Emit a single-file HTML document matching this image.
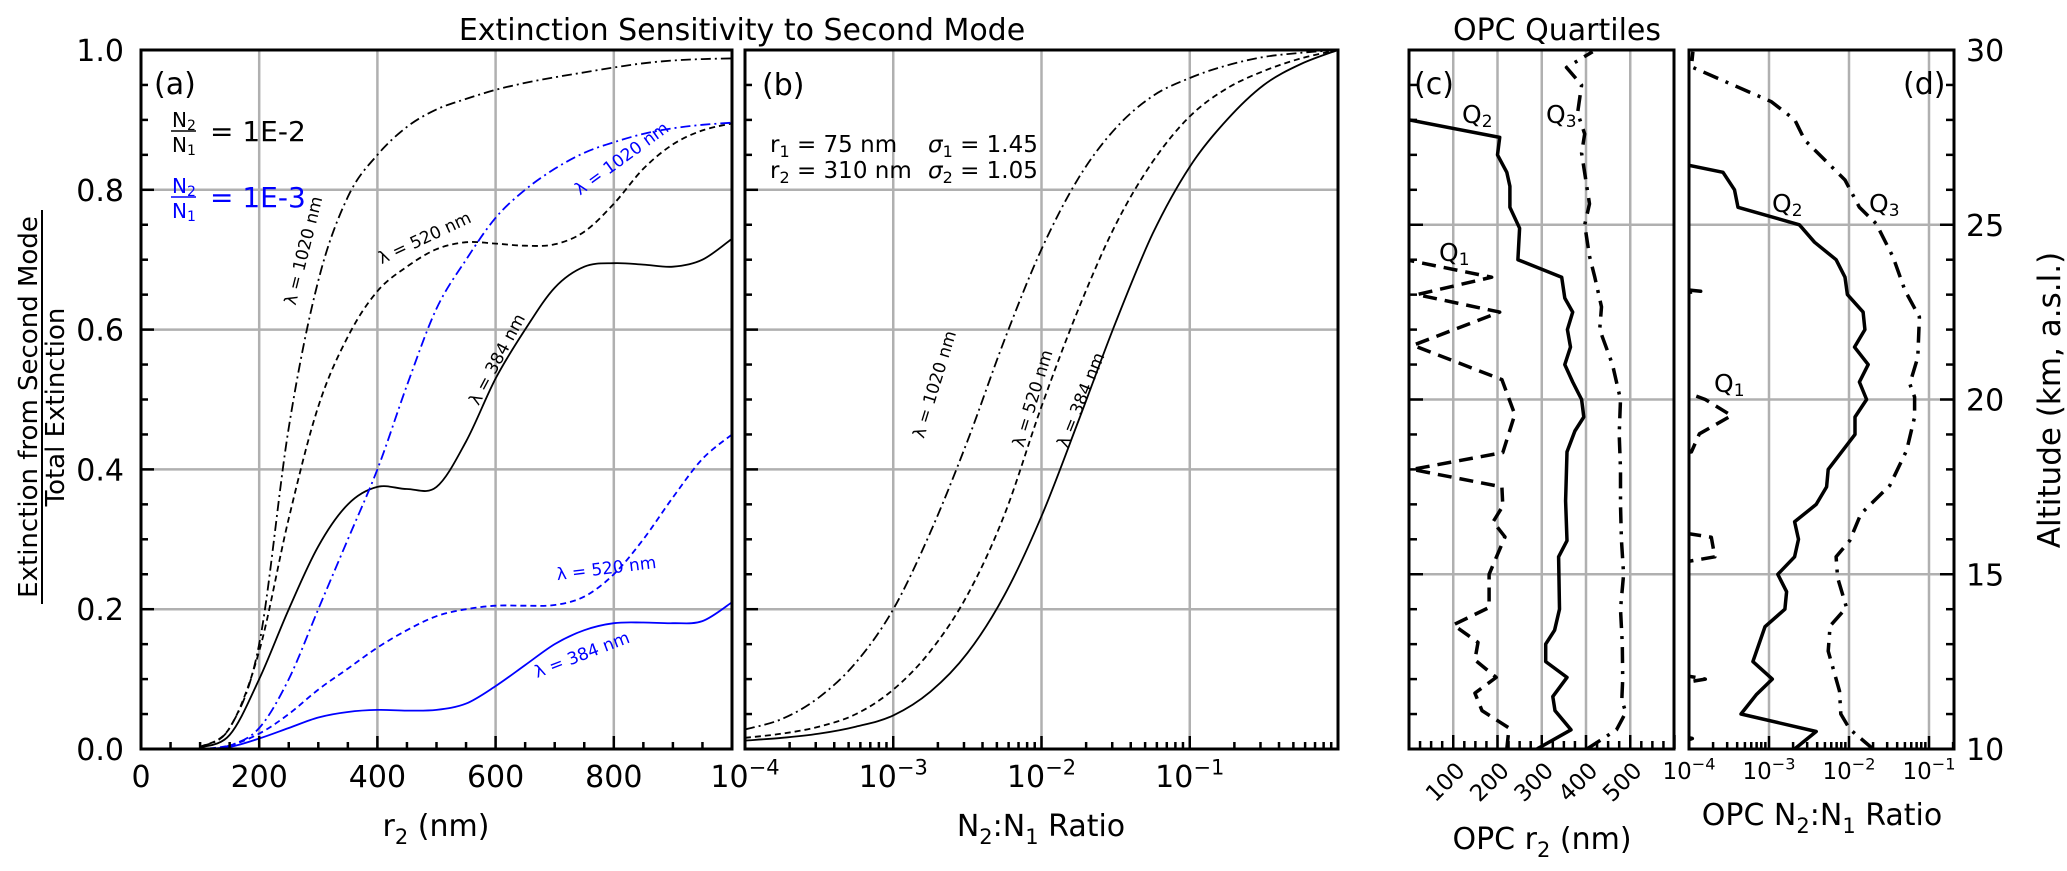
<!DOCTYPE html>
<html><head><meta charset="utf-8"><style>
html,body{margin:0;padding:0;background:#fff;}
svg{display:block;font-family:"DejaVu Sans","Liberation Sans",sans-serif;}
</style></head><body>
<svg id="fig" width="2067" height="871" viewBox="0 0 2067 871" xmlns="http://www.w3.org/2000/svg">
<rect x="0" y="0" width="2067" height="871" fill="#fff"/>
<g id="grid"></g>
<g id="curves"></g>
<g id="axes"></g>
<g id="labels" font-size="30" fill="#000">
 <text x="742" y="40" text-anchor="middle" font-size="30">Extinction Sensitivity to Second Mode</text>
 <text x="1557" y="40" text-anchor="middle" font-size="30">OPC Quartiles</text>
 <text x="436" y="836" text-anchor="middle">r<tspan font-size="21" dy="8">2</tspan><tspan dy="-8"> (nm)</tspan></text>
 <text x="1041" y="836" text-anchor="middle">N<tspan font-size="21" dy="8">2</tspan><tspan dy="-8">:N</tspan><tspan font-size="21" dy="8">1</tspan><tspan dy="-8"> Ratio</tspan></text>
 <text x="1542" y="849" text-anchor="middle">OPC r<tspan font-size="21" dy="8">2</tspan><tspan dy="-8"> (nm)</tspan></text>
 <text x="1822" y="825" text-anchor="middle">OPC N<tspan font-size="21" dy="8">2</tspan><tspan dy="-8">:N</tspan><tspan font-size="21" dy="8">1</tspan><tspan dy="-8"> Ratio</tspan></text>
 <g font-size="26">
  <text transform="translate(37,407) rotate(-90)" text-anchor="middle">Extinction from Second Mode</text>
  <line x1="42" y1="210" x2="42" y2="604" stroke="#000" stroke-width="2"/>
  <text transform="translate(64,407) rotate(-90)" text-anchor="middle">Total Extinction</text>
 </g>
 <text transform="translate(2060,400) rotate(-90)" text-anchor="middle" font-size="31">Altitude (km, a.s.l.)</text>
 <text x="154" y="94" font-size="30">(a)</text>
 <text x="762" y="95" font-size="30">(b)</text>
 <text x="1414" y="94" font-size="30">(c)</text>
 <text x="1903" y="94" font-size="30">(d)</text>
 <g>
  <text x="184" y="127" font-size="20" text-anchor="middle">N<tspan font-size="14" dy="3">2</tspan></text>
  <line x1="171" y1="131" x2="196" y2="131" stroke="#000" stroke-width="1.5"/>
  <text x="184" y="152" font-size="20" text-anchor="middle">N<tspan font-size="14" dy="3">1</tspan></text>
  <text x="210" y="141" font-size="28">= 1E-2</text>
 </g>
 <g fill="#0000ff">
  <text x="184" y="193" font-size="20" text-anchor="middle">N<tspan font-size="14" dy="3">2</tspan></text>
  <line x1="171" y1="197" x2="196" y2="197" stroke="#0000ff" stroke-width="1.5"/>
  <text x="184" y="218" font-size="20" text-anchor="middle">N<tspan font-size="14" dy="3">1</tspan></text>
  <text x="210" y="207" font-size="28">= 1E-3</text>
 </g>
 <g font-size="23">
  <text x="770" y="152">r<tspan font-size="16" dy="5">1</tspan><tspan dy="-5"> = 75 nm</tspan></text>
  <text x="770" y="178">r<tspan font-size="16" dy="5">2</tspan><tspan dy="-5"> = 310 nm</tspan></text>
  <text x="928" y="152"><tspan font-style="italic">σ</tspan><tspan font-size="16" dy="5">1</tspan><tspan dy="-5"> = 1.45</tspan></text>
  <text x="928" y="178"><tspan font-style="italic">σ</tspan><tspan font-size="16" dy="5">2</tspan><tspan dy="-5"> = 1.05</tspan></text>
 </g>
 <g font-size="17">
  <text transform="translate(309,252) rotate(-76)" text-anchor="middle">λ = 1020 nm</text>
  <text transform="translate(427,243) rotate(-25)" text-anchor="middle">λ = 520 nm</text>
  <text transform="translate(502,362) rotate(-62)" text-anchor="middle">λ = 384 nm</text>
  <text transform="translate(625,163) rotate(-36)" text-anchor="middle" fill="#0000ff">λ = 1020 nm</text>
  <text transform="translate(607,574) rotate(-7)" text-anchor="middle" fill="#0000ff">λ = 520 nm</text>
  <text transform="translate(584,660) rotate(-21)" text-anchor="middle" fill="#0000ff">λ = 384 nm</text>
  <text transform="translate(940,386) rotate(-73)" text-anchor="middle">λ = 1020 nm</text>
  <text transform="translate(1038,400) rotate(-73)" text-anchor="middle">λ = 520 nm</text>
  <text transform="translate(1086,402) rotate(-68)" text-anchor="middle">λ = 384 nm</text>
 </g>
 <g font-size="25">
  <text x="1462" y="123">Q<tspan font-size="17" dy="4">2</tspan></text>
  <text x="1546" y="123">Q<tspan font-size="17" dy="4">3</tspan></text>
  <text x="1439" y="261">Q<tspan font-size="17" dy="4">1</tspan></text>
  <text x="1772" y="212">Q<tspan font-size="17" dy="4">2</tspan></text>
  <text x="1869" y="212">Q<tspan font-size="17" dy="4">3</tspan></text>
  <text x="1714" y="392">Q<tspan font-size="17" dy="4">1</tspan></text>
 </g>
</g>
<defs>
 <clipPath id="clipA"><rect x="141" y="50" width="591" height="699"/></clipPath>
 <clipPath id="clipB"><rect x="745" y="50" width="593" height="699"/></clipPath>
 <clipPath id="clipC"><rect x="1409" y="50" width="265" height="699"/></clipPath>
 <clipPath id="clipD"><rect x="1689" y="50" width="265" height="699"/></clipPath>
</defs>
</svg>
<script>
// ---------- Panel (a) data ----------
const aRadii = [100,150,200,250,300,350,400,450,500,550,600,650,700,750,800,850,900,950,1000];
const aBlack384 = [0.002,0.02,0.10,0.20,0.29,0.35,0.375,0.372,0.375,0.44,0.53,0.60,0.66,0.69,0.695,0.693,0.69,0.70,0.73];
const aBlack520 = [0.003,0.03,0.14,0.33,0.49,0.59,0.655,0.69,0.715,0.725,0.723,0.72,0.722,0.74,0.78,0.83,0.865,0.885,0.895];
const aBlack1020 = [0.003,0.03,0.15,0.46,0.67,0.79,0.85,0.89,0.915,0.93,0.943,0.953,0.961,0.968,0.975,0.981,0.985,0.987,0.988];
const aBlue384 = [0,0.003,0.015,0.03,0.045,0.053,0.056,0.055,0.056,0.065,0.09,0.12,0.15,0.17,0.18,0.181,0.18,0.183,0.21];
const aBlue520 = [0,0.005,0.022,0.05,0.085,0.115,0.145,0.17,0.19,0.2,0.205,0.205,0.206,0.218,0.25,0.3,0.36,0.415,0.45];
const aBlue1020 = [0,0.005,0.03,0.10,0.20,0.30,0.40,0.52,0.63,0.70,0.76,0.80,0.83,0.853,0.868,0.88,0.888,0.893,0.896];
const aXTicks = [0,200,400,600,800];
const aYTicks = [0,0.2,0.4,0.6,0.8,1.0];
// ---------- Panel (b) data ----------
const bRatios = [1e-4,1.78e-4,3.16e-4,5.62e-4,1e-3,1.78e-3,3.16e-3,5.62e-3,1e-2,1.78e-2,3.16e-2,5.62e-2,1e-1,1.78e-1,3.16e-1,5.62e-1,1];
const b384 = [0.012,0.016,0.022,0.032,0.048,0.082,0.137,0.22,0.333,0.47,0.61,0.737,0.833,0.9,0.95,0.98,1.0];
const b520 = [0.016,0.022,0.032,0.05,0.085,0.14,0.22,0.335,0.49,0.63,0.75,0.84,0.905,0.945,0.97,0.988,1.0];
const b1020 = [0.028,0.043,0.074,0.124,0.2,0.31,0.44,0.585,0.715,0.817,0.888,0.934,0.96,0.978,0.99,0.996,1.0];
const bXTicks = [-4,-3,-2,-1];
// ---------- Panel (c) data (altitude km, r2 nm) ----------
const cQ1Alt = [10.0,10.6,11.1,11.6,12.05,12.55,13.05,13.55,14.05,15.0,16.07,16.5,16.95,17.5,18.0,18.48,19.57,20.57,21.55,22.5,23.0,23.5,23.98];
const cQ1R = [221,226,165,149,197,149,156,100,181,181,217,190,212,210,7,212,239,210,9,205,18,187,0];
const cQ2Alt = [10.0,10.55,11.1,11.5,12.05,12.5,13.0,13.4,14.0,15.5,15.96,17.1,18.5,19.1,19.5,20.0,20.5,21.0,21.5,22.0,22.5,22.9,23.5,24.0,24.9,25.5,26.1,26.5,27.0,27.5,28.0];
const cQ2R = [289,366,330,325,357,309,309,329,340,338,357,354,357,375,395,390,370,352,365,358,370,352,345,246,250,228,228,221,200,205,0];
const cQ3Alt = [10.0,10.55,11.05,11.4,12.0,13.0,14.0,15.0,16.0,17.0,18.0,19.0,20.0,21.0,22.0,22.65,23.5,24.1,25.0,25.6,27.05,27.6,28.2,29.0,29.5,29.95];
const cQ3R = [402,469,490,481,483,482,478,485,480,478,478,475,478,460,431,435,420,408,397,408,390,397,381,390,356,415];
const cXTicks = [100,200,300,400,500];
// ---------- Panel (d) data (altitude km, N2:N1 ratio) ----------
const dQ1Alt = [10.0,10.3,10.5,11.8,12.0,12.2,15.3,15.37,15.5,16.06,16.16,16.3,18.4,18.5,19.02,19.54,20.0,20.17,20.3,23.0,23.1,23.2];
const dQ1N = [5e-5,1.1e-4,5e-5,5e-5,1.6e-4,5e-5,5e-5,1e-4,2.1e-4,1.9e-4,1e-4,5e-5,5e-5,1.07e-4,1.35e-4,3.4e-4,1.6e-4,1.02e-4,5e-5,5e-5,1.4e-4,5e-5];
const dQ2Alt = [10.0,10.5,11.0,11.55,12.0,12.5,13.5,14.0,14.5,15.0,15.5,16.0,16.5,17.0,17.5,18.0,19.0,19.5,20.0,20.5,21.0,21.5,22.0,22.5,23.0,23.5,24.0,24.5,25.0,25.5,26.0,26.5,26.7];
const dQ2N = [0.00209,0.00389,0.000447,0.000692,0.0011,0.00063,0.00089,0.00158,0.00166,0.00129,0.00209,0.00234,0.00209,0.00389,0.00525,0.0055,0.0119,0.0119,0.0166,0.0135,0.0174,0.0117,0.0158,0.015,0.00955,0.0089,0.0069,0.0037,0.0024,0.00041,0.00037,0.000266,0.0001];
const dQ3Alt = [10.0,10.57,11.0,11.66,12.8,13.52,14.05,14.9,15.5,15.96,16.73,17.54,18.54,19.5,20.07,20.45,21.21,22.36,23.12,24.08,25.03,25.5,26.28,27.42,28.0,28.52,29.52,29.95];
const dQ3N = [0.02,0.0102,0.0079,0.0076,0.0055,0.0058,0.0093,0.0072,0.0069,0.0102,0.0141,0.0324,0.0525,0.066,0.066,0.0575,0.0724,0.0759,0.0501,0.0355,0.0219,0.0135,0.0089,0.0028,0.0021,0.00107,0.000107,0.000112];
const dXTicks = [-4,-3,-2,-1];
const altTicks = [10,15,20,25,30];

// ---------- scales ----------
const TOP=50, BOT=749;
const xa = r => 141 + r*0.591;
const ya = v => BOT - v*(BOT-TOP);
const xb = n => 745 + (Math.log10(n)+4)*148.25;
const xc = r => 1409 + r*0.4425;
const xd = n => 1689 + (Math.log10(n)+4)*80;
const yAlt = h => BOT - (h-10)*(BOT-TOP)/20;

const NS='http://www.w3.org/2000/svg';
const G={grid:document.getElementById('grid'),curves:document.getElementById('curves'),axes:document.getElementById('axes'),labels:document.getElementById('labels')};
function mk(tag, attrs, parent){const e=document.createElementNS(NS,tag);for(const k in attrs)e.setAttribute(k,attrs[k]);parent.appendChild(e);return e;}
function spline(pts){let d='M'+pts[0][0].toFixed(1)+','+pts[0][1].toFixed(1);for(let i=0;i<pts.length-1;i++){const p0=pts[i-1]||pts[i],p1=pts[i],p2=pts[i+1],p3=pts[i+2]||pts[i+1];const c1=[p1[0]+(p2[0]-p0[0])/6,p1[1]+(p2[1]-p0[1])/6];const c2=[p2[0]-(p3[0]-p1[0])/6,p2[1]-(p3[1]-p1[1])/6];d+='C'+c1[0].toFixed(1)+','+c1[1].toFixed(1)+' '+c2[0].toFixed(1)+','+c2[1].toFixed(1)+' '+p2[0].toFixed(1)+','+p2[1].toFixed(1);}return d;}
function poly(pts){return 'M'+pts.map(p=>p[0].toFixed(1)+','+p[1].toFixed(1)).join('L');}

const GRIDC='#b0b0b0';
function gline(x1,y1,x2,y2,name){const l=mk('line',{x1:x1,y1:y1,x2:x2,y2:y2,stroke:GRIDC,'stroke-width':2.5},G.grid);}
[200,400,600,800].forEach(r=>gline(xa(r),TOP,xa(r),BOT,'grid-a-x'));
[0.2,0.4,0.6,0.8].forEach(v=>{gline(141,ya(v),732,ya(v),'grid-a-y');gline(745,ya(v),1338,ya(v),'grid-b-y');});
[1e-3,1e-2,1e-1].forEach(n=>gline(xb(n),TOP,xb(n),BOT,'grid-b-x'));
cXTicks.forEach(r=>gline(xc(r),TOP,xc(r),BOT,'grid-c-x'));
[1e-3,1e-2,1e-1].forEach(n=>gline(xd(n),TOP,xd(n),BOT,'grid-d-x'));
[15,20,25].forEach(h=>{gline(1409,yAlt(h),1674,yAlt(h),'grid-c-y');gline(1689,yAlt(h),1954,yAlt(h),'grid-d-y');});

function series(d,stroke,width,dash,clip,name){const p=mk('path',{d:d,fill:'none',stroke:stroke,'stroke-width':width,'stroke-dasharray':dash,'clip-path':'url(#'+clip+')','stroke-linejoin':'round'},G.curves);}
const DASH='6,4', DDOT='10,4,2,4';
const aPts = arr => aRadii.map((r,i)=>[xa(r),ya(arr[i])]);
series(spline(aPts(aBlack384)),'#000',1.8,'none','clipA','line-a-384nm-1e-2');
series(spline(aPts(aBlack520)),'#000',1.8,DASH,'clipA','line-a-520nm-1e-2');
series(spline(aPts(aBlack1020)),'#000',1.8,DDOT,'clipA','line-a-1020nm-1e-2');
series(spline(aPts(aBlue384)),'#0000ff',1.8,'none','clipA','line-a-384nm-1e-3');
series(spline(aPts(aBlue520)),'#0000ff',1.8,DASH,'clipA','line-a-520nm-1e-3');
series(spline(aPts(aBlue1020)),'#0000ff',1.8,DDOT,'clipA','line-a-1020nm-1e-3');
const bPts = arr => bRatios.map((n,i)=>[xb(n),ya(arr[i])]);
series(spline(bPts(b384)),'#000',1.8,'none','clipB','line-b-384nm');
series(spline(bPts(b520)),'#000',1.8,DASH,'clipB','line-b-520nm');
series(spline(bPts(b1020)),'#000',1.8,DDOT,'clipB','line-b-1020nm');
const cPts = (alt,r) => alt.map((h,i)=>[xc(r[i]),yAlt(h)]);
series(poly(cPts(cQ1Alt,cQ1R)),'#000',3.5,'14,8','clipC','line-c-q1');
series(poly(cPts(cQ2Alt,cQ2R)),'#000',3.5,'none','clipC','line-c-q2');
series(poly(cPts(cQ3Alt,cQ3R)),'#000',3.5,'16,8,3,8','clipC','line-c-q3');
const dPts = (alt,n) => alt.map((h,i)=>[xd(n[i]),yAlt(h)]);
series(poly(dPts(dQ1Alt,dQ1N)),'#000',3.5,'14,8','clipD','line-d-q1');
series(poly(dPts(dQ2Alt,dQ2N)),'#000',3.5,'none','clipD','line-d-q2');
series(poly(dPts(dQ3Alt,dQ3N)),'#000',3.5,'16,8,3,8','clipD','line-d-q3');

function frame(x,y,w,h,name){const r=mk('rect',{x:x,y:y,width:w,height:h,fill:'none',stroke:'#000','stroke-width':3},G.axes);}
frame(141,TOP,591,BOT-TOP,'axes-frame-a');
frame(745,TOP,593,BOT-TOP,'axes-frame-b');
frame(1409,TOP,265,BOT-TOP,'axes-frame-c');
frame(1689,TOP,265,BOT-TOP,'axes-frame-d');
function tick(x1,y1,x2,y2,name){const l=mk('line',{x1:x1,y1:y1,x2:x2,y2:y2,stroke:'#000','stroke-width':2.5},G.axes);}
function label(x,y,txt,anchor,size,name){const t=mk('text',{x:x,y:y,'text-anchor':anchor,'font-size':size},G.labels);t.textContent=txt;return t;}
function powLabel(x,y,exp,size,name){const t=mk('text',{x:x,y:y,'text-anchor':'middle','font-size':size},G.labels);t.appendChild(document.createTextNode('10'));const s=mk('tspan',{dy:-size*0.42,'font-size':size*0.7},t);s.textContent='\u2212'+Math.abs(exp);return t;}
for(let v=0;v<=1.0001;v+=0.05){const major=Math.abs(v*5-Math.round(v*5))<1e-6;tick(141,ya(v),141+(major?13:7),ya(v),'tick-a-y');tick(745,ya(v),745+(major?13:7),ya(v),'tick-b-y');}
aYTicks.forEach(v=>label(124,ya(v)+11,v.toFixed(1),'end',30,'tick-label-a-y'));
for(let r=0;r<=1000;r+=50){const major=r%200===0;tick(xa(r),BOT,xa(r),BOT-(major?13:7),'tick-a-x');}
aXTicks.forEach(r=>label(xa(r),787,String(r),'middle',30,'tick-label-a-x'));
for(let e=-4;e<0;e++){for(let m=1;m<10;m++){const x=xb(m*Math.pow(10,e));tick(x,BOT,x,BOT-(m===1?13:7),'tick-b-x');}}
bXTicks.forEach(e=>powLabel(xb(Math.pow(10,e)),787,e,30,'tick-label-b-x'));
for(let r=0;r<=600;r+=25){const major=r%100===0;tick(xc(r),BOT,xc(r),BOT-(major?14:8),'tick-c-x');}
cXTicks.forEach(r=>{const t=mk('text',{transform:'translate('+(xc(r)+13)+',772) rotate(-45)','text-anchor':'end','font-size':23},G.labels);t.textContent=String(r);});
for(let h=10;h<=30;h++){const major=h%5===0;tick(1409,yAlt(h),1409+(major?14:8),yAlt(h),'tick-c-y');tick(1954,yAlt(h),1954-(major?14:8),yAlt(h),'tick-d-y');}
for(let e=-4;e<0;e++){for(let m=1;m<10;m++){const x=xd(m*Math.pow(10,e));if(x<=1954)tick(x,BOT,x,BOT-(m===1?13:7),'tick-d-x');}}
dXTicks.forEach(e=>powLabel(xd(Math.pow(10,e)),779,e,23,'tick-label-d-x'));
altTicks.forEach(h=>label(1966,yAlt(h)+11,String(h),'start',30,'tick-label-altitude'));
</script>
</body></html>
